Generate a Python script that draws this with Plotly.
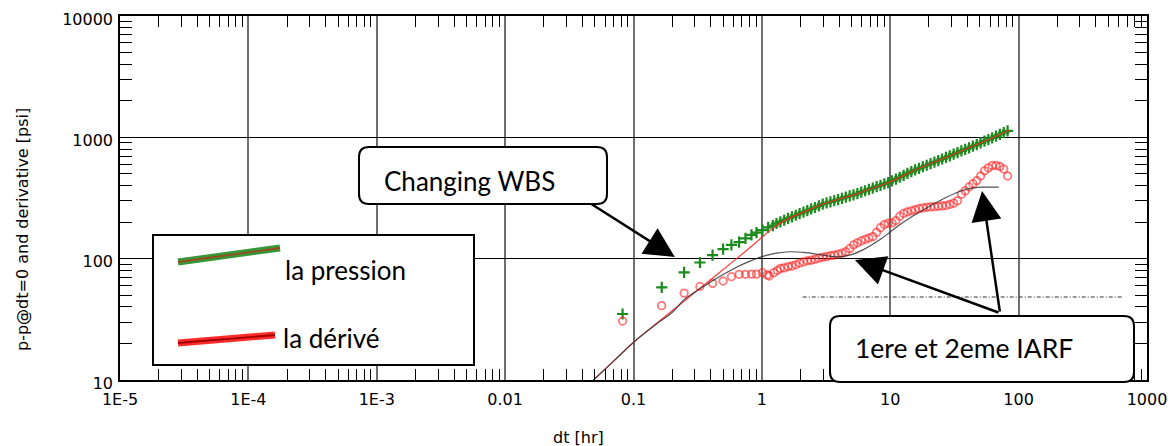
import plotly.graph_objects as go
import numpy as np

# ---- measured pressure change (early, sparse) ----
dt_p_early = [0.0822, 0.166, 0.248, 0.329, 0.413, 0.499, 0.579, 0.665, 0.745,
              0.83, 0.908, 1.01, 1.12, 1.22]
p_early = [35, 58, 77, 93, 107, 120, 130, 137, 147, 157, 164, 172, 181, 187]

# ---- measured pressure change (late, dense) ----
dt_p_late = [1.300, 1.393, 1.493, 1.600, 1.714, 1.837, 1.968, 2.109, 2.259, 2.421,
             2.594, 2.780, 2.979, 3.192, 3.420, 3.664, 3.926, 4.207, 4.508, 4.831,
             5.176, 5.546, 5.943, 6.368, 6.823, 7.311, 7.834, 8.395, 8.995, 9.638,
             10.33, 11.07, 11.86, 12.71, 13.61, 14.59, 15.63, 16.75, 17.95, 19.23,
             20.61, 22.08, 23.66, 25.35, 27.16, 29.11, 31.19, 33.42, 35.81, 38.37,
             41.11, 44.06, 47.21, 50.58, 54.20, 58.08, 62.23, 66.68, 71.45, 76.56, 82.04]
p_late = [195, 201, 208, 215, 221, 228, 235, 242, 249, 257,
          264, 272, 281, 288, 294, 301, 307, 314, 321, 329,
          336, 344, 353, 363, 372, 382, 392, 402, 413, 424,
          437, 453, 469, 486, 504, 522, 539, 555, 572, 589,
          607, 625, 643, 663, 683, 704, 726, 748, 772, 796,
          820, 846, 872, 899, 929, 959, 991, 1024, 1059, 1094, 1130]

# ---- measured derivative (early, sparse) ----
dt_d_early = [0.0822, 0.1656, 0.248, 0.329, 0.413, 0.499, 0.579, 0.665, 0.745,
              0.83, 0.908, 1.01, 1.1, 1.14, 1.24, 1.32]
d_early = [30.6, 41, 52, 59, 62.6, 65.4, 71, 74.3, 74.3, 74.6, 74.6, 76.7, 73.5,
           72, 76.7, 80]

# ---- measured derivative (late, dense) ----
dt_d_late = [1.393, 1.493, 1.600, 1.714, 1.837, 1.968, 2.109, 2.259, 2.421, 2.594,
             2.780, 2.979, 3.192, 3.420, 3.664, 3.926, 4.207, 4.508, 4.831, 5.176,
             5.546, 5.943, 6.368, 6.823, 7.311, 7.834, 8.395, 8.995, 9.638, 10.33,
             11.07, 11.86, 12.71, 13.61, 14.59, 15.63, 16.75, 17.95, 19.23, 20.61,
             22.08, 23.66, 25.35, 27.16, 29.11, 31.19, 33.42, 35.81, 38.37, 41.11,
             44.06, 47.21, 50.58, 54.20, 58.08, 62.23, 66.68, 71.45, 76.56, 82.04]
d_late = [83, 84, 86, 87, 89, 92, 94, 96, 97, 99,
          101, 103, 104, 106, 107, 109, 111, 114, 121, 130,
          135, 140, 144, 148, 152, 165, 180, 191, 196, 197,
          206, 224, 236, 243, 248, 253, 258, 262, 265, 267,
          268, 270, 272, 274, 280, 287, 300, 340, 362, 390,
          415, 440, 480, 530, 560, 585, 588, 575, 548, 480]

# ---- model curves ----
dt_model_p = [0.0488, 0.07, 0.1, 0.15, 0.2, 0.3, 0.45, 0.65, 0.9, 1.0, 1.2, 1.45,
              1.65, 2.0, 3.0, 5.45, 10, 15.1, 27.4, 49.9, 85]
model_p = [10, 14.3, 20.5, 29.1, 37.2, 52.6, 74.4, 102, 136, 150, 176, 202,
           217, 236, 282, 342, 430, 531, 686, 893, 1150]

dt_model_d = [0.0488, 0.07, 0.1, 0.15, 0.2, 0.248, 0.3, 0.417, 0.5, 0.634, 0.8,
              1.0, 1.3, 1.65, 2.2, 3.0, 3.8, 5.0, 6.0, 7.0, 8.5, 10, 12, 15, 20,
              27.4, 37, 45, 52, 70]
model_d = [10, 14.3, 20.4, 28.8, 36, 46, 53, 66, 74, 85, 95,
           104, 111, 114, 112, 107, 103.5, 108, 117, 128, 146, 166, 192, 225, 268,
           321, 366, 383, 388, 388]

# ---- IARF reference line ----
iarf_dt = [2.08, 650]
iarf_val = [48.3, 48.3]

# ---- tick labels ----
x_tickvals = [1e-5, 1e-4, 1e-3, 1e-2, 1e-1, 1, 10, 100, 1000]
x_ticktext = ["1E-5", "1E-4", "1E-3", "0.01", "0.1", "1", "10", "100", "1000"]
y_tickvals = [10, 100, 1000, 10000]
y_ticktext = ["10", "100", "1000", "10000"]

# ---- figure geometry (pixels) ----
W, H = 1176, 446
X0, X1, Y0, Y1 = 120, 1147, 16, 380


def px(x):
    return (x - X0) / (X1 - X0)


def py(y):
    return (Y1 - y) / (Y1 - Y0)


def rounded_box(x0, y0, x1, y1, r):
    pts = [("M", x0 + r, y0), ("L", x1 - r, y0), ("Q", x1, y0, x1, y0 + r),
           ("L", x1, y1 - r), ("Q", x1, y1, x1 - r, y1), ("L", x0 + r, y1),
           ("Q", x0, y1, x0, y1 - r), ("L", x0, y0 + r), ("Q", x0, y0, x0 + r, y0)]
    out = []
    for p in pts:
        cmd = p[0]
        coords = p[1:]
        s = cmd + " " + " ".join(
            f"{px(coords[i]):.5f},{py(coords[i + 1]):.5f}" for i in range(0, len(coords), 2))
        out.append(s)
    return " ".join(out) + " Z"


GREEN = "#1c8a1c"
RED_PT = "rgba(255,30,30,0.6)"

fig = go.Figure()

fig.add_trace(go.Scatter(
    x=dt_p_early + dt_p_late, y=p_early + p_late, mode="markers",
    marker=dict(symbol="cross-thin-open", size=8, color=GREEN,
                line=dict(color=GREEN, width=2.2)),
    showlegend=False, hoverinfo="skip"))

fig.add_trace(go.Scatter(
    x=dt_d_early + dt_d_late, y=d_early + d_late, mode="markers",
    marker=dict(symbol="circle-open", size=7.5, color=RED_PT,
                line=dict(color=RED_PT, width=1.8)),
    showlegend=False, hoverinfo="skip"))

fig.add_trace(go.Scatter(
    x=dt_model_p, y=model_p, mode="lines", line=dict(color="rgba(255,40,40,0.9)", width=1.2),
    line_shape="spline", showlegend=False, hoverinfo="skip"))

fig.add_trace(go.Scatter(
    x=dt_model_d, y=model_d, mode="lines", line=dict(color="rgba(50,50,50,0.85)", width=1.2),
    line_shape="spline", showlegend=False, hoverinfo="skip"))

fig.add_trace(go.Scatter(
    x=iarf_dt, y=iarf_val, mode="lines", line=dict(color="#333", width=1.2, dash="4px,2px,1px,2px"),
    showlegend=False, hoverinfo="skip"))

minor_x = [m * 10.0 ** e for e in range(-5, 3) for m in range(2, 10)]
minor_y = [m * 10.0 ** e for e in range(1, 4) for m in range(2, 10)]

fig.update_xaxes(
    type="log", range=[-5, 3], showline=True, linecolor="black", linewidth=1.5,
    mirror="allticks", tickmode="array", tickvals=x_tickvals, ticktext=x_ticktext,
    ticks="inside", ticklen=12, tickcolor="#6e6e6e", automargin=False,
    showgrid=True, gridcolor="#6e6e6e", gridwidth=1.5, zeroline=False,
    tickfont=dict(family="DejaVu Sans", size=16, color="black"),
    ticklabelstandoff=4,
    minor=dict(tickmode="array", tickvals=minor_x, ticks="inside", ticklen=11,
               tickcolor="black", tickwidth=1, showgrid=False))

fig.update_yaxes(
    type="log", range=[1, 4], showline=True, linecolor="black", linewidth=1.5,
    mirror="allticks", tickmode="array", tickvals=y_tickvals, ticktext=y_ticktext,
    ticks="inside", ticklen=12, tickcolor="black", automargin=False,
    showgrid=True, gridcolor="black", gridwidth=1, zeroline=False,
    tickfont=dict(family="DejaVu Sans", size=16, color="black"),
    ticklabelshift=3, ticklabelstandoff=2,
    minor=dict(tickmode="array", tickvals=minor_y, ticks="inside", ticklen=12,
               tickcolor="black", tickwidth=1, showgrid=False))

shapes = []
# legend box
shapes.append(dict(type="rect", xref="paper", yref="paper",
                   x0=px(153), x1=px(474), y0=py(365), y1=py(235),
                   line=dict(color="black", width=2), fillcolor="white", layer="above"))
# legend samples
shapes.append(dict(type="line", xref="paper", yref="paper",
                   x0=px(178), y0=py(262), x1=px(280), y1=py(248),
                   line=dict(color="rgba(34,140,34,0.9)", width=7), layer="above"))
shapes.append(dict(type="line", xref="paper", yref="paper",
                   x0=px(178), y0=py(262), x1=px(280), y1=py(248),
                   line=dict(color="#9a4a20", width=1.8), layer="above"))
shapes.append(dict(type="line", xref="paper", yref="paper",
                   x0=px(178), y0=py(343), x1=px(275), y1=py(335),
                   line=dict(color="rgba(255,20,20,0.9)", width=7), layer="above"))
shapes.append(dict(type="line", xref="paper", yref="paper",
                   x0=px(178), y0=py(343), x1=px(275), y1=py(335),
                   line=dict(color="#a00000", width=1.8), layer="above"))
# callout boxes
shapes.append(dict(type="path", xref="paper", yref="paper",
                   path=rounded_box(359, 147, 607, 204, 10),
                   line=dict(color="black", width=2), fillcolor="white", layer="above"))
shapes.append(dict(type="path", xref="paper", yref="paper",
                   path=rounded_box(830, 316, 1134, 382, 10),
                   line=dict(color="black", width=2), fillcolor="white", layer="above"))

TXT = dict(family="Lato", size=26, color="black")
annotations = [
    dict(text="la pression", xref="paper", yref="paper", x=px(283), y=py(270),
         xanchor="left", yanchor="middle", showarrow=False, font=TXT),
    dict(text="la dérivé", xref="paper", yref="paper", x=px(281), y=py(338),
         xanchor="left", yanchor="middle", showarrow=False, font=TXT),
    dict(text="Changing WBS", xref="paper", yref="paper", x=px(382), y=py(181),
         xanchor="left", yanchor="middle", showarrow=False, font=TXT),
    dict(text="1ere et 2eme IARF", xref="paper", yref="paper", x=px(853), y=py(348),
         xanchor="left", yanchor="middle", showarrow=False,
         font=dict(family="Lato", size=26.5, color="black")),
    dict(text="dt [hr]", xref="paper", yref="paper", x=px(578), y=py(438),
         xanchor="center", yanchor="middle", showarrow=False,
         font=dict(family="DejaVu Sans", size=16, color="black")),
    dict(text="p-p@dt=0 and derivative [psi]", xref="paper", yref="paper",
         x=px(22), y=py(230), xanchor="center", yanchor="middle", textangle=-90,
         showarrow=False, font=dict(family="DejaVu Sans", size=16, color="black")),
]

# arrows pointing at features of the curves (tip in data units, tail offset in px)
arrow_specs = [((0.21, 103), (-85, -54)),
               ((5.31, 97.5), (145, 53)),
               ((51.9, 361), (18, 122))]
for (tx, ty), (ax, ay) in arrow_specs:
    annotations.append(dict(text="", x=np.log10(tx), y=np.log10(ty), xref="x", yref="y",
                            ax=ax, ay=ay, showarrow=True, arrowhead=2, arrowsize=2.4,
                            arrowwidth=2.5, arrowcolor="black", standoff=0))

fig.update_layout(
    width=W, height=H, margin=dict(l=X0, r=W - X1, t=Y0, b=H - Y1),
    paper_bgcolor="white", plot_bgcolor="white",
    shapes=shapes, annotations=annotations, showlegend=False)

fig.write_html("out.html")
